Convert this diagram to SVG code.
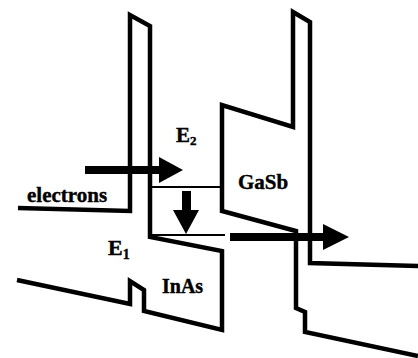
<svg xmlns="http://www.w3.org/2000/svg" width="418" height="358" viewBox="0 0 418 358">
<style>
.band{fill:none;stroke:#000;stroke-width:4.5;stroke-linejoin:miter;stroke-linecap:butt}
.level{fill:none;stroke:#000;stroke-width:2}
.arrow{fill:#000;stroke:none}
.lbl{font-family:"Liberation Serif","Times New Roman",serif;font-weight:bold;fill:#000;stroke:#000;stroke-width:0.4}
</style>
<rect width="418" height="358" fill="#fff"/>
<g id="bands">
<path id="inas-band" class="band" d="M18,208 L130,211 L130,15 L150,26 L150,237 L222,251 L222,330 L144,311 L144,290 L130,281 L130,304 L17,280"/>
<path id="gasb-band" class="band" d="M418,266 L310,263 L310,22 L293,12 L293,127 L222,105 L222,211 L296,231 L296,308 L305,312 L305,332 L418,356"/>
</g>
<g id="levels">
<path id="E2-level" class="level" d="M150,187 L222,187"/>
<path id="E1-level" class="level" d="M150,235 L225,235"/>
</g>
<g id="connectors">
<g id="arrow-in"><rect class="arrow" x="85" y="166" width="76" height="8"/><polygon class="arrow" points="159,157 183,170 159,183"/></g>
<g id="arrow-down"><rect class="arrow" x="182" y="191" width="9" height="21"/><polygon class="arrow" points="173,210 199,210 186,234"/></g>
<g id="arrow-out"><rect class="arrow" x="230" y="233" width="95" height="8"/><polygon class="arrow" points="323,224 349,237 323,250"/></g>
</g>
<g id="labels">
<text id="electrons" class="lbl" x="27" y="202" font-size="21">electrons</text>
<text id="E2" class="lbl" x="176" y="142" font-size="21">E<tspan font-size="13" dy="3">2</tspan></text>
<text id="E1" class="lbl" x="108" y="255" font-size="22">E<tspan font-size="14" dy="4">1</tspan></text>
<text id="GaSb" class="lbl" x="238" y="189" font-size="21">GaSb</text>
<text id="InAs" class="lbl" x="162" y="293" font-size="20">InAs</text>
</g>
</svg>
